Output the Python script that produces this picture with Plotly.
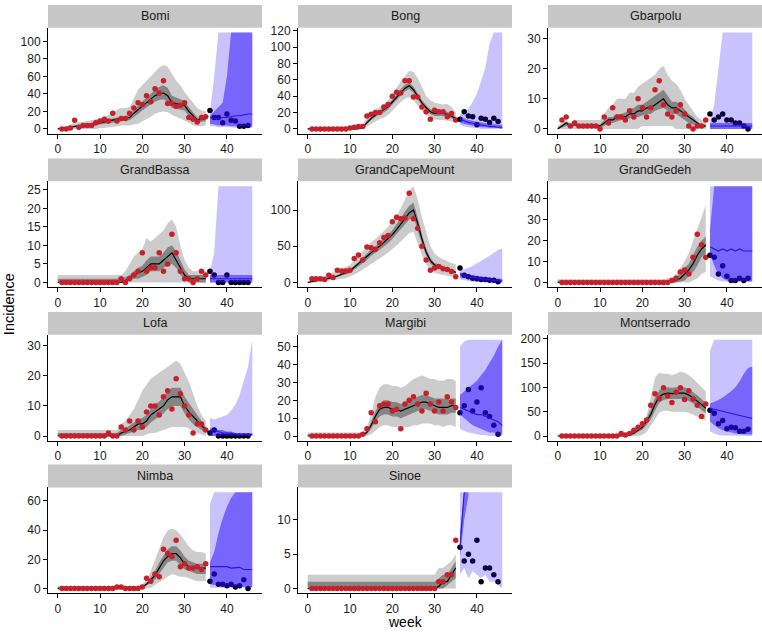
import plotly.graph_objects as go

# ---------------- data ----------------
COUNTIES = ["Bomi", "Bong", "Gbarpolu", "GrandBassa", "GrandCapeMount", "GrandGedeh",
            "Lofa", "Margibi", "Montserrado", "Nimba", "Sinoe"]

FIT_WEEKS = list(range(0, 36))     # fitted period (grey)
OBS_WEEKS = list(range(1, 36))     # observed, used for fitting (red)
TEST_WEEKS = list(range(36, 46))   # observed, held out (black)
FC_WEEKS = list(range(36, 47))     # forecast period (blue)
X_TICKS = [0, 10, 20, 30, 40]

Y_TICKS = {
    "Bomi": [0, 20, 40, 60, 80, 100],
    "Bong": [0, 20, 40, 60, 80, 100, 120],
    "Gbarpolu": [0, 10, 20, 30],
    "GrandBassa": [0, 5, 10, 15, 20, 25],
    "GrandCapeMount": [0, 50, 100],
    "GrandGedeh": [0, 10, 20, 30, 40],
    "Lofa": [0, 10, 20, 30],
    "Margibi": [0, 10, 20, 30, 40, 50],
    "Montserrado": [0, 50, 100, 150, 200],
    "Nimba": [0, 20, 40, 60],
    "Sinoe": [0, 5, 10],
}

OBS = {
    "Bomi": [0, 0, 1, 10, 2, 4, 4, 4, 7, 9, 11, 9, 18, 9, 12, 12, 18, 24, 30, 28, 38, 31, 46, 41, 55, 29, 29, 26, 27, 30, 13, 11, 8, 13, 14],
    "Bong": [0, 0, 0, 0, 0, 0, 0, 0, 0, 1, 2, 3, 3, 16, 18, 20, 20, 27, 30, 40, 45, 44, 59, 59, 39, 39, 27, 21, 12, 23, 21, 21, 15, 19, 11],
    "Gbarpolu": [3, 4, 1, 2, 1, 1, 1, 1, 1, 0, 4, 2, 7, 4, 4, 3, 6, 4, 10, 7, 4, 7, 13, 16, 8, 5, 4, 6, 8, 5, 1, 0, 1, 1, 3],
    "GrandBassa": [0, 0, 0, 0, 0, 0, 0, 0, 0, 0, 0, 0, 0, 0, 1, 0, 1, 2, 3, 8, 3, 4, 4, 8, 3, 5, 13, 8, 3, 1, 1, 0, 1, 3, 2],
    "GrandCapeMount": [5, 5, 5, 4, 10, 7, 17, 16, 16, 17, 33, 38, 31, 49, 48, 46, 55, 62, 65, 84, 90, 88, 89, 123, 88, 75, 50, 31, 17, 20, 22, 19, 18, 15, 8],
    "GrandGedeh": [0, 0, 0, 0, 0, 0, 0, 0, 0, 0, 0, 0, 0, 0, 0, 0, 0, 0, 0, 0, 0, 0, 0, 0, 0, 0, 1, 2, 5, 6, 4, 12, 23, 18, 12],
    "Lofa": [0, 0, 0, 0, 0, 0, 0, 0, 0, 0, 0, 1, 0, 0, 3, 2, 5, 2, 5, 3, 8, 10, 10, 7, 13, 15, 9, 19, 14, 10, 7, 1, 4, 4, 2],
    "Margibi": [0, 0, 0, 0, 0, 0, 0, 0, 0, 0, 0, 0, 1, 4, 13, 8, 17, 18, 18, 14, 15, 4, 18, 20, 22, 18, 14, 24, 18, 14, 19, 14, 22, 19, 16],
    "Montserrado": [0, 0, 0, 0, 0, 0, 0, 0, 0, 0, 0, 0, 0, 0, 5, 2, 5, 12, 18, 25, 33, 63, 87, 77, 99, 82, 69, 90, 99, 75, 93, 76, 63, 40, 66],
    "Nimba": [0, 0, 0, 0, 0, 0, 0, 0, 0, 0, 0, 0, 0, 1, 1, 0, 0, 0, 0, 1, 7, 5, 10, 8, 27, 24, 22, 33, 15, 17, 14, 14, 15, 13, 17],
    "Sinoe": [0, 0, 0, 0, 0, 0, 0, 0, 0, 0, 0, 0, 0, 0, 0, 0, 0, 0, 0, 0, 0, 0, 0, 0, 0, 0, 0, 0, 0, 0, 1, 1, 2, 2, 7],
}

TEST = {
    "Bomi": [21, 13, 13, 7, 17, 10, 9, 3, 3, 4],
    "Bong": [12, 21, 16, 15, 5, 13, 12, 8, 13, 9],
    "Gbarpolu": [5, 3, 4, 5, 3, 3, 2, 2, 1, 0],
    "GrandBassa": [3, 2, 0, 0, 2, 0, 0, 0, 0, 0],
    "GrandCapeMount": [20, 10, 8, 6, 5, 4, 4, 3, 3, 1],
    "GrandGedeh": [13, 12, 4, 8, 3, 1, 1, 2, 1, 2],
    "Lofa": [1, 2, 0, 0, 0, 0, 0, 0, 0, 0],
    "Margibi": [13, 17, 26, 14, 19, 27, 13, 11, 6, 1],
    "Montserrado": [53, 47, 25, 32, 15, 18, 17, 10, 10, 14],
    "Nimba": [5, 10, 3, 3, 2, 3, 1, 2, 6, 0],
    "Sinoe": [6, 4, 5, 4, 7, 1, 3, 3, 2, 1],
}

FIT_MED = {
    "Bomi": [0, 0, 1, 2, 3, 3, 4, 4, 5, 6, 7, 8, 9, 10, 11, 12, 12, 13, 18, 22, 27, 31, 34, 38, 40, 41, 38, 30, 29, 28, 27, 20, 15, 10, 11, 12],
    "Bong": [0, 0, 0, 0, 0, 0, 0, 0, 0, 0, 0, 0, 0, 2, 8, 13, 17, 20, 23, 27, 33, 39, 45, 50, 53, 48, 40, 32, 26, 21, 19, 19, 19, 18, 16, 13],
    "Gbarpolu": [0, 1, 2, 1, 1.5, 1, 1, 1, 1, 1, 1, 2, 3, 3, 4, 4, 4, 5, 5, 6, 6, 7, 7, 8, 9, 10, 8, 7, 7, 6, 5, 4, 3, 2, 1, 1],
    "GrandBassa": [0, 0, 0, 0, 0, 0, 0, 0, 0, 0, 0, 0, 0, 0, 0, 0, 0.5, 1, 2, 2.5, 3, 4, 5, 5, 5, 6, 7, 8, 6, 4, 2, 1, 1, 1, 1, 1],
    "GrandCapeMount": [0, 1, 2, 3, 4, 5, 7, 9, 11, 13, 16, 21, 26, 31, 36, 42, 46, 50, 55, 60, 66, 73, 81, 89, 96, 100, 82, 60, 42, 30, 24, 22, 20, 18, 16, 14],
    "GrandGedeh": [0, 0, 0, 0, 0, 0, 0, 0, 0, 0, 0, 0, 0, 0, 0, 0, 0, 0, 0, 0, 0, 0, 0, 0, 0, 0, 0, 0.5, 1, 2, 4, 6, 9, 13, 16, 18],
    "Lofa": [0, 0, 0, 0, 0, 0, 0, 0, 0, 0, 0, 0, 0, 0, 0, 1, 1.5, 2, 3, 4, 4, 5, 7, 8, 9, 10, 12, 13, 13, 13, 10, 8, 6.5, 5, 3.5, 2],
    "Margibi": [0, 0, 0, 0, 0, 0, 0, 0, 0, 0, 0, 0, 0, 0.5, 2, 6, 11, 15, 16, 16, 15, 15, 14, 15, 16, 17, 18, 19, 19, 18, 17, 16, 16, 16, 17, 17],
    "Montserrado": [0, 0, 0, 0, 0, 0, 0, 0, 0, 0, 0, 0, 0, 0, 0, 0, 0, 3, 6, 12, 18, 30, 44, 65, 81, 86, 88, 87, 88, 88, 88, 84, 78, 72, 65, 57],
    "Nimba": [0, 0, 0, 0, 0, 0, 0, 0, 0, 0, 0, 0, 0, 0, 0, 0, 0, 0, 0, 0, 1, 3, 6, 9, 14, 19, 22, 24, 24, 21, 17, 15, 14, 14, 14, 14],
    "Sinoe": [0, 0, 0, 0, 0, 0, 0, 0, 0, 0, 0, 0, 0, 0, 0, 0, 0, 0, 0, 0, 0, 0, 0, 0, 0, 0, 0, 0, 0, 0, 0, 0.3, 1, 1, 2, 3],
}

FIT_LO95 = {
    "Bomi": [0, 0, 0, 0, 0, 0, 0, 0, 0, 0, 1, 1, 2, 2, 3, 4, 4, 4, 5, 6, 8, 11, 14, 17, 19, 20, 19, 16, 14, 12, 10, 7, 4, 3, 3, 4],
    "Bong": [0, 0, 0, 0, 0, 0, 0, 0, 0, 0, 0, 0, 0, 0, 3, 6, 9, 12, 14, 17, 22, 28, 33, 37, 39, 35, 28, 22, 17, 14, 12, 11, 11, 10, 9, 8],
    "Gbarpolu": [0, 0, 0, 0, 0, 0, 0, 0, 0, 0, 0, 0, 0, 0, 0, 0, 0, 0, 0, 0, 1, 1, 1, 1, 1, 1, 1, 1, 0, 0, 0, 0, 0, 0, 0, 0],
    "GrandBassa": [0, 0, 0, 0, 0, 0, 0, 0, 0, 0, 0, 0, 0, 0, 0, 0, 0, 0, 0, 0, 0, 0, 0, 0, 0, 0, 0, 0, 0, 0, 0, 0, 0, 0, 0, 0],
    "GrandCapeMount": [0, 0, 0, 1, 1, 2, 3, 4, 5, 6, 8, 11, 14, 18, 22, 26, 29, 33, 37, 41, 46, 51, 57, 62, 68, 70, 55, 38, 25, 17, 13, 11, 10, 9, 8, 6],
    "GrandGedeh": [0, 0, 0, 0, 0, 0, 0, 0, 0, 0, 0, 0, 0, 0, 0, 0, 0, 0, 0, 0, 0, 0, 0, 0, 0, 0, 0, 0, 0, 0, 0, 0, 1, 2, 4, 5],
    "Lofa": [0, 0, 0, 0, 0, 0, 0, 0, 0, 0, 0, 0, 0, 0, 0, 0, 0, 0, 0, 0, 0, 0.5, 1, 1, 1.5, 2, 2.5, 3, 3, 3, 3, 2.5, 1.5, 1, 0.5, 0],
    "Margibi": [0, 0, 0, 0, 0, 0, 0, 0, 0, 0, 0, 0, 0, 0, 0, 1, 3, 5, 6, 6, 5, 5, 4, 5, 5, 6, 6, 7, 7, 7, 6, 6, 5, 6, 6, 5],
    "Montserrado": [0, 0, 0, 0, 0, 0, 0, 0, 0, 0, 0, 0, 0, 0, 0, 0, 0, 0, 0, 0, 2, 8, 20, 35, 48, 52, 52, 50, 50, 50, 50, 48, 45, 40, 36, 32],
    "Nimba": [0, 0, 0, 0, 0, 0, 0, 0, 0, 0, 0, 0, 0, 0, 0, 0, 0, 0, 0, 0, 0, 0, 0.5, 2, 4, 6, 8, 10, 9, 8, 8, 7, 6, 5, 5, 5],
    "Sinoe": [0, 0, 0, 0, 0, 0, 0, 0, 0, 0, 0, 0, 0, 0, 0, 0, 0, 0, 0, 0, 0, 0, 0, 0, 0, 0, 0, 0, 0, 0, 0, 0, 0, 0, 0, 0],
}

FIT_HI95 = {
    "Bomi": [1, 2, 3, 5, 7, 8, 8, 9, 10, 11, 12, 14, 16, 18, 22, 24, 24, 25, 35, 45, 50, 55, 60, 66, 70, 73, 71, 63, 55, 50, 42, 36, 30, 24, 21, 20],
    "Bong": [1, 1, 1, 1, 1, 1, 1, 1, 1, 1, 2, 3, 4, 5, 15, 20, 24, 27, 30, 35, 42, 50, 58, 65, 71, 70, 62, 52, 40, 35, 32, 31, 30, 31, 27, 20],
    "Gbarpolu": [1, 2, 3, 2, 3, 3, 3, 3, 3, 3, 3, 5, 7, 8, 10, 10, 10, 12, 12, 14, 15, 16, 17, 18, 20, 21, 18, 16, 15, 13, 10, 8, 6, 4, 3, 3],
    "GrandBassa": [2, 2, 2, 2, 2, 2, 2, 2, 2, 2, 2, 2, 2, 2, 2, 2, 3, 5, 7, 8, 9, 12, 11, 12, 13, 14, 16, 17, 15, 10, 6, 4, 3, 3, 3, 3],
    "GrandCapeMount": [1, 3, 5, 7, 9, 11, 13, 16, 19, 21, 24, 30, 37, 43, 49, 56, 60, 65, 71, 77, 84, 92, 102, 114, 127, 133, 115, 90, 68, 50, 40, 35, 32, 29, 27, 25],
    "GrandGedeh": [1.5, 1.5, 1.5, 1.5, 1.5, 1.5, 1.5, 1.5, 1.5, 1.5, 1.5, 1.5, 1.5, 1.5, 1.5, 1.5, 1.5, 1.5, 1.5, 1.5, 1.5, 1.5, 1.5, 1.5, 1.5, 1.5, 2, 2.5, 4, 7, 10, 14, 20, 26, 32, 37],
    "Lofa": [2, 2, 2, 2, 2, 2, 2, 2, 2, 2, 2, 2, 2, 2, 2, 4, 5, 7, 9, 12, 15, 17, 19, 20, 21, 22, 23, 24, 25, 24, 21, 18, 14, 10, 7, 5],
    "Margibi": [2, 2, 2, 2, 2, 2, 2, 2, 2, 2, 2, 2, 2, 2, 5, 12, 22, 27, 29, 29, 28, 28, 27, 28, 30, 32, 33, 34, 33, 32, 32, 31, 31, 32, 32, 31],
    "Montserrado": [2, 2, 2, 2, 2, 2, 2, 2, 2, 2, 2, 2, 2, 2, 3, 4, 6, 10, 16, 22, 27, 40, 80, 120, 130, 128, 128, 125, 128, 132, 130, 125, 118, 110, 100, 92],
    "Nimba": [2, 2, 2, 2, 2, 2, 2, 2, 2, 2, 2, 2, 2, 2, 2, 2, 2, 2, 2, 2, 3, 6, 12, 20, 27, 35, 40, 41, 40, 37, 33, 29, 26, 25, 25, 24],
    "Sinoe": [2, 2, 2, 2, 2, 2, 2, 2, 2, 2, 2, 2, 2, 2, 2, 2, 2, 2, 2, 2, 2, 2, 2, 2, 2, 2, 2, 2, 2, 2, 2, 3, 3, 3.5, 4, 5],
}

FIT_LO50 = {
    "Bomi": [0, 0, 0.5, 1, 2, 2, 2.5, 3, 3.5, 4, 5, 6, 6.5, 7, 8, 9, 9.5, 10, 14, 17, 21, 25, 28, 31, 33, 34, 31, 24, 23, 22, 21, 15, 11, 7, 8, 9],
    "Bong": [0, 0, 0, 0, 0, 0, 0, 0, 0, 0, 0, 0, 0, 1, 6, 11, 15, 18, 20, 24, 30, 36, 41, 46, 49, 44, 36, 29, 23, 18, 16, 16, 16, 15, 13, 11],
    "Gbarpolu": [0, 0.5, 1, 0.5, 1, 0.5, 0.5, 0.5, 0.5, 0.5, 0.5, 1, 2, 2, 2.5, 3, 3, 3.5, 4, 4, 4.5, 5, 5, 6, 6.5, 7, 6, 5, 5, 4, 3, 2, 1.5, 1, 0.5, 0.5],
    "GrandBassa": [0, 0, 0, 0, 0, 0, 0, 0, 0, 0, 0, 0, 0, 0, 0, 0, 0, 0.5, 1, 1, 1.5, 2, 3, 3, 3, 4, 4.5, 5, 4, 2, 1, 0, 0, 0, 0, 0],
    "GrandCapeMount": [0, 0, 1, 2, 3, 4, 5, 7, 9, 11, 13, 18, 22, 27, 31, 37, 41, 45, 49, 54, 60, 66, 73, 80, 87, 90, 73, 53, 37, 26, 21, 19, 17, 16, 14, 12],
    "GrandGedeh": [0, 0, 0, 0, 0, 0, 0, 0, 0, 0, 0, 0, 0, 0, 0, 0, 0, 0, 0, 0, 0, 0, 0, 0, 0, 0, 0, 0, 0, 0.5, 1, 3, 5, 8, 12, 14],
    "Lofa": [0, 0, 0, 0, 0, 0, 0, 0, 0, 0, 0, 0, 0, 0, 0, 0, 0.5, 1, 1.5, 2, 2, 3, 4.5, 5.5, 6.5, 7.5, 9, 10, 10, 10, 7.5, 5.5, 4, 3, 2, 1],
    "Margibi": [0, 0, 0, 0, 0, 0, 0, 0, 0, 0, 0, 0, 0, 0, 1, 4, 8, 11, 12, 12, 11, 11, 10, 11, 12, 13, 14, 15, 15, 14, 13, 12, 12, 12, 13, 13],
    "Montserrado": [0, 0, 0, 0, 0, 0, 0, 0, 0, 0, 0, 0, 0, 0, 0, 0, 0, 1, 3, 8, 13, 22, 34, 52, 68, 74, 76, 75, 76, 76, 76, 72, 67, 61, 54, 47],
    "Nimba": [0, 0, 0, 0, 0, 0, 0, 0, 0, 0, 0, 0, 0, 0, 0, 0, 0, 0, 0, 0, 0.5, 2, 4, 6, 10, 14, 18, 19, 19, 16, 13, 12, 11, 10, 10, 10],
    "Sinoe": [0, 0, 0, 0, 0, 0, 0, 0, 0, 0, 0, 0, 0, 0, 0, 0, 0, 0, 0, 0, 0, 0, 0, 0, 0, 0, 0, 0, 0, 0, 0, 0, 0, 0.5, 1, 1.5],
}

FIT_HI50 = {
    "Bomi": [0.5, 1, 2, 3, 4, 5, 5, 6, 7, 8, 9, 10, 11, 12, 13, 14, 15, 16, 22, 27, 32, 36, 40, 45, 48, 50, 47, 38, 36, 34, 32, 25, 19, 13, 13, 14],
    "Bong": [0.5, 0.5, 0.5, 0.5, 0.5, 0.5, 0.5, 0.5, 0.5, 0.5, 0.5, 0.5, 0.5, 3, 10, 15, 19, 22, 26, 30, 36, 43, 49, 54, 57, 52, 44, 35, 29, 24, 22, 22, 22, 21, 18, 15],
    "Gbarpolu": [0.5, 1.5, 2.5, 1.5, 2, 1.5, 1.5, 1.5, 1.5, 1.5, 1.5, 3, 4, 4, 5, 5, 5.5, 6.5, 7, 8, 8, 9, 10, 11, 12, 13, 11, 9, 9, 8, 6.5, 5, 4, 2.5, 1.5, 1.5],
    "GrandBassa": [1, 1, 1, 1, 1, 1, 1, 1, 1, 1, 1, 1, 1, 1, 1, 1, 1.5, 2, 3, 4, 4.5, 6, 7, 7, 7, 8, 9.5, 10, 8.5, 6, 3.5, 2, 2, 2, 2, 2],
    "GrandCapeMount": [1, 2, 3, 4, 5, 6, 8, 10, 12, 15, 18, 23, 29, 34, 40, 46, 50, 55, 60, 66, 72, 80, 89, 98, 106, 110, 90, 66, 47, 34, 27, 25, 22, 20, 18, 16],
    "GrandGedeh": [1, 1, 1, 1, 1, 1, 1, 1, 1, 1, 1, 1, 1, 1, 1, 1, 1, 1, 1, 1, 1, 1, 1, 1, 1, 1, 1, 1.5, 3, 4, 7, 9, 13, 17, 20, 22],
    "Lofa": [1, 1, 1, 1, 1, 1, 1, 1, 1, 1, 1, 1, 1, 1, 1, 2, 2.5, 3.5, 4.5, 5.5, 6, 7, 9, 10.5, 11.5, 13, 15, 16, 16, 16, 13, 11, 9, 7, 5, 3],
    "Margibi": [1, 1, 1, 1, 1, 1, 1, 1, 1, 1, 1, 1, 1, 1, 3, 8, 14, 18, 20, 20, 19, 19, 18, 19, 20, 21, 22, 23, 23, 22, 21, 21, 21, 21, 21, 21],
    "Montserrado": [1, 1, 1, 1, 1, 1, 1, 1, 1, 1, 1, 1, 1, 1, 1, 1, 1, 5, 9, 16, 23, 37, 55, 78, 94, 99, 100, 99, 100, 101, 100, 96, 90, 84, 76, 68],
    "Nimba": [1, 1, 1, 1, 1, 1, 1, 1, 1, 1, 1, 1, 1, 1, 1, 1, 1, 1, 1, 1, 1.5, 4, 8, 12, 18, 23, 27, 29, 29, 26, 22, 19, 18, 17, 17, 17],
    "Sinoe": [1, 1, 1, 1, 1, 1, 1, 1, 1, 1, 1, 1, 1, 1, 1, 1, 1, 1, 1, 1, 1, 1, 1, 1, 1, 1, 1, 1, 1, 1, 1, 1.5, 2, 2, 3, 4],
}

FC_MED = {
    "Bomi": [13, 12, 12, 13, 13, 14, 15, 15, 16, 17, 17],
    "Bong": [12, 10, 8, 7, 6, 5, 4, 3, 3, 2, 2],
    "Gbarpolu": [1, 1, 1, 1, 1, 1, 1, 1, 1, 1, 1],
    "GrandBassa": [1, 1, 1, 1, 1, 1, 1, 1, 1, 1, 1],
    "GrandCapeMount": [11, 9, 8, 7, 6, 5, 4, 4, 3, 3, 2],
    "GrandGedeh": [17, 16, 15, 16, 15, 16, 15, 16, 15, 15, 15],
    "Lofa": [2, 2, 1.5, 1, 1, 1, 0.5, 0.5, 0.5, 0.5, 0.5],
    "Margibi": [16, 15, 14, 13, 12, 12, 11, 10, 9, 8, 6],
    "Montserrado": [57, 55, 53, 51, 49, 47, 45, 43, 41, 38, 36],
    "Nimba": [15, 15, 15, 15, 15, 14, 14, 14.5, 13, 13, 13],
    "Sinoe": [6, 14, None, None, None, None, None, None, None, None, None],
}

FC_LO95 = {
    "Bomi": [3, 3, 2, 2, 2, 2, 1, 1, 1, 1, 1],
    "Bong": [5, 3, 2, 1, 1, 0, 0, 0, 0, 0, 0],
    "Gbarpolu": [0, 0, 0, 0, 0, 0, 0, 0, 0, 0, 0],
    "GrandBassa": [0, 0, 0, 0, 0, 0, 0, 0, 0, 0, 0],
    "GrandCapeMount": [4, 3, 2, 1, 1, 0, 0, 0, 0, 0, 0],
    "GrandGedeh": [3, 2, 1, 0.5, 0.5, 0.5, 0.5, 0.5, 0.5, 0.5, 0.5],
    "Lofa": [0, 0, 0, 0, 0, 0, 0, 0, 0, 0, 0],
    "Margibi": [4, 3, 2, 1.5, 1, 0.5, 0.5, 0, 0, 0, 0],
    "Montserrado": [10, 5, 2, 1, 0.5, 0, 0, 0, 0, 0, 0],
    "Nimba": [0.5, 0.5, 0.5, 0.5, 0.5, 0.5, 0.5, 0.5, 0.5, 0.5, 0.5],
    "Sinoe": [2, 3, 1.5, 2.5, 2, 1.5, 2, 1, 1, 0.5, 0],
}

FC_HI95 = {
    "Bomi": [20, 60, 110, 110, 110, 110, 110, 110, 110, 110, 110],
    "Bong": [18, 20, 25, 33, 43, 58, 75, 105, 118, 118, 118],
    "Gbarpolu": [3, 8, 20, 32, 32, 32, 32, 32, 32, 32, 32],
    "GrandBassa": [3, 8, 26, 26, 26, 26, 26, 26, 26, 26, 26],
    "GrandCapeMount": [17, 18, 20, 23, 27, 30, 33, 37, 41, 45, 47],
    "GrandGedeh": [46, 46, 46, 46, 46, 46, 46, 46, 46, 46, 46],
    "Lofa": [6, 5.5, 6, 6.5, 7, 8.5, 10.5, 13.5, 18, 23, 32],
    "Margibi": [50, 53, 54, 54, 54, 54, 54, 54, 54, 54, 54],
    "Montserrado": [175, 198, 198, 198, 198, 198, 198, 198, 198, 198, 198],
    "Nimba": [58, 66, 66, 66, 66, 66, 66, 66, 66, 66, 66],
    "Sinoe": [14, 14, 14, 14, 14, 14, 14, 14, 14, 14, 14],
}

FC_LO50 = {
    "Bomi": [6, 5, 4, 4, 4, 3, 3, 3, 3, 3, 3],
    "Bong": [8, 6, 5, 4, 3, 2, 2, 1, 1, 1, 0],
    "Gbarpolu": [0, 0, 0, 0, 0, 0, 0, 0, 0, 0, 0],
    "GrandBassa": [0, 0, 0, 0, 0, 0, 0, 0, 0, 0, 0],
    "GrandCapeMount": [7, 5, 4, 3, 2, 2, 1, 1, 1, 0, 0],
    "GrandGedeh": [14, 8, 4, 2, 1, 0.5, 0.5, 0.5, 0.5, 0.5, 0.5],
    "Lofa": [0, 0, 0, 0, 0, 0, 0, 0, 0, 0, 0],
    "Margibi": [12, 10, 8, 6, 5, 4, 3, 2, 2, 1, 1],
    "Montserrado": [30, 22, 16, 12, 9, 7, 5, 4, 3, 3, 3],
    "Nimba": [3, 2.5, 2, 1.5, 1.5, 1, 1, 1, 1, 1, 1],
    "Sinoe": [4.5, 10, 13.5, None, None, None, None, None, None, None, None],
}

FC_HI50 = {
    "Bomi": [15, 20, 25, 30, 60, 110, 110, 110, 110, 110, 110],
    "Bong": [15, 13, 11, 10, 9, 8, 7, 6, 6, 5, 5],
    "Gbarpolu": [2, 2, 2, 2, 2, 2, 2, 2, 2, 2, 2],
    "GrandBassa": [2, 2, 2, 2, 2, 2, 2, 2, 2, 2, 2],
    "GrandCapeMount": [14, 12, 11, 10, 9, 8, 7, 6, 6, 5, 5],
    "GrandGedeh": [25, 46, 46, 46, 46, 46, 46, 46, 46, 46, 46],
    "Lofa": [2.5, 2.5, 2, 2, 1.5, 1.5, 1, 1, 1, 1, 1],
    "Margibi": [23, 25, 27, 29, 31, 34, 37, 41, 45, 50, 54],
    "Montserrado": [67, 70, 74, 79, 85, 92, 100, 112, 128, 140, 143],
    "Nimba": [18, 25, 38, 48, 56, 62, 66, 66, 66, 66, 66],
    "Sinoe": [8, 14, 14, None, None, None, None, None, None, None, None],
}

# ---------------- styling / geometry ----------------
W, H = 762, 634
COL_LEFT = [48, 298, 548]
PLOT_W = 214
ROW_TOP = [24, 179, 334, 488]
PLOT_H = 107
STRIP_H = 23

GREY_OUT = "#cccccc"
GREY_IN = "#858585"
BLUE_OUT = "rgba(40,10,250,0.25)"
BLUE_IN = "rgba(40,10,250,0.50)"
BLUE_LINE = "rgb(35,25,215)"
RED = "#C8202A"
FONT = "Liberation Sans, Arial, Helvetica, sans-serif"


def ribbon(x, lo, hi, color, xa, ya):
    pts = [(a, l, h) for a, l, h in zip(x, lo, hi) if l is not None and h is not None]
    xs = [p[0] for p in pts] + [p[0] for p in reversed(pts)]
    ys = [p[2] for p in pts] + [p[1] for p in reversed(pts)]
    return go.Scatter(x=xs, y=ys, mode="lines", fill="toself", fillcolor=color,
                      line=dict(width=0, color=color), hoverinfo="skip",
                      showlegend=False, xaxis=xa, yaxis=ya)


fig = go.Figure()
layout = dict(width=W, height=H, margin=dict(l=0, r=0, t=0, b=0),
              paper_bgcolor="white", plot_bgcolor="white",
              font=dict(family=FONT, size=12, color="#1a1a1a"),
              showlegend=False)
shapes, annotations = [], []

all_weeks = FIT_WEEKS + FC_WEEKS
xmin, xmax = min(all_weeks), max(all_weeks)
xpad = 0.05 * (xmax - xmin)

for k, c in enumerate(COUNTIES):
    r, col = divmod(k, 3)
    n = k + 1
    xa = "x" if n == 1 else f"x{n}"
    ya = "y" if n == 1 else f"y{n}"

    fig.add_trace(ribbon(FIT_WEEKS, FIT_LO95[c], FIT_HI95[c], GREY_OUT, xa, ya))
    fig.add_trace(ribbon(FIT_WEEKS, FIT_LO50[c], FIT_HI50[c], GREY_IN, xa, ya))
    fig.add_trace(go.Scatter(x=FIT_WEEKS, y=FIT_MED[c], mode="lines",
                             line=dict(color="black", width=1.2), hoverinfo="skip",
                             xaxis=xa, yaxis=ya))
    fig.add_trace(go.Scatter(x=OBS_WEEKS, y=OBS[c], mode="markers",
                             marker=dict(color=RED, size=5.5), xaxis=xa, yaxis=ya))
    fig.add_trace(go.Scatter(x=TEST_WEEKS, y=TEST[c], mode="markers",
                             marker=dict(color="black", size=5.5), xaxis=xa, yaxis=ya))
    fig.add_trace(ribbon(FC_WEEKS, FC_LO95[c], FC_HI95[c], BLUE_OUT, xa, ya))
    fig.add_trace(ribbon(FC_WEEKS, FC_LO50[c], FC_HI50[c], BLUE_IN, xa, ya))
    fig.add_trace(go.Scatter(x=FC_WEEKS, y=FC_MED[c], mode="lines",
                             line=dict(color=BLUE_LINE, width=1.1), hoverinfo="skip",
                             connectgaps=False, xaxis=xa, yaxis=ya))

    vals = [v for arr in (FIT_HI95[c], FC_HI95[c], OBS[c], TEST[c], FC_MED[c]) for v in arr
            if v is not None]
    ymax = max(vals)
    ymin = 0
    ypad = 0.05 * (ymax - ymin)

    x0 = COL_LEFT[col]
    x1 = x0 + PLOT_W
    top = ROW_TOP[r]
    bot = top + PLOT_H

    axis_common = dict(showgrid=False, zeroline=False, showline=True, linecolor="black",
                       linewidth=1, ticks="outside", ticklen=4, tickwidth=1,
                       tickcolor="black", tickfont=dict(family=FONT, size=12, color="#1a1a1a"),
                       fixedrange=True)
    layout["xaxis" if n == 1 else f"xaxis{n}"] = dict(
        domain=[x0 / W, x1 / W], anchor=ya, range=[xmin - xpad, xmax + xpad],
        tickvals=X_TICKS, ticktext=[str(t) for t in X_TICKS], **axis_common)
    layout["yaxis" if n == 1 else f"yaxis{n}"] = dict(
        domain=[1 - bot / H, 1 - top / H], anchor=xa, range=[ymin - ypad, ymax + ypad],
        tickvals=Y_TICKS[c], ticktext=[str(t) for t in Y_TICKS[c]], **axis_common)

    shapes.append(dict(type="rect", xref="paper", yref="paper",
                       x0=x0 / W, x1=x1 / W, y0=1 - top / H, y1=1 - (top - STRIP_H) / H,
                       fillcolor="#c6c6c6", line=dict(width=0), layer="below"))
    annotations.append(dict(text=c, xref="paper", yref="paper",
                            x=(x0 + x1) / 2 / W, y=1 - (top - STRIP_H / 2) / H,
                            xanchor="center", yanchor="middle", showarrow=False,
                            font=dict(family=FONT, size=12.5, color="#1a1a1a")))

annotations.append(dict(text="week", xref="paper", yref="paper", x=405 / W, y=1 - 634 / H,
                        xanchor="center", yanchor="bottom", showarrow=False,
                        font=dict(family=FONT, size=14, color="black")))
annotations.append(dict(text="Incidence", xref="paper", yref="paper", x=9 / W, y=1 - 303 / H,
                        xanchor="center", yanchor="middle", showarrow=False, textangle=-90,
                        font=dict(family=FONT, size=14.5, color="black")))

layout["shapes"] = shapes
layout["annotations"] = annotations
fig.update_layout(**layout)
fig.write_html(
    "out.html",
    config={"displayModeBar": False, "staticPlot": False},
    post_script="document.body.style.margin='0';document.body.style.padding='0';"
                "document.documentElement.style.overflow='hidden';",
)
